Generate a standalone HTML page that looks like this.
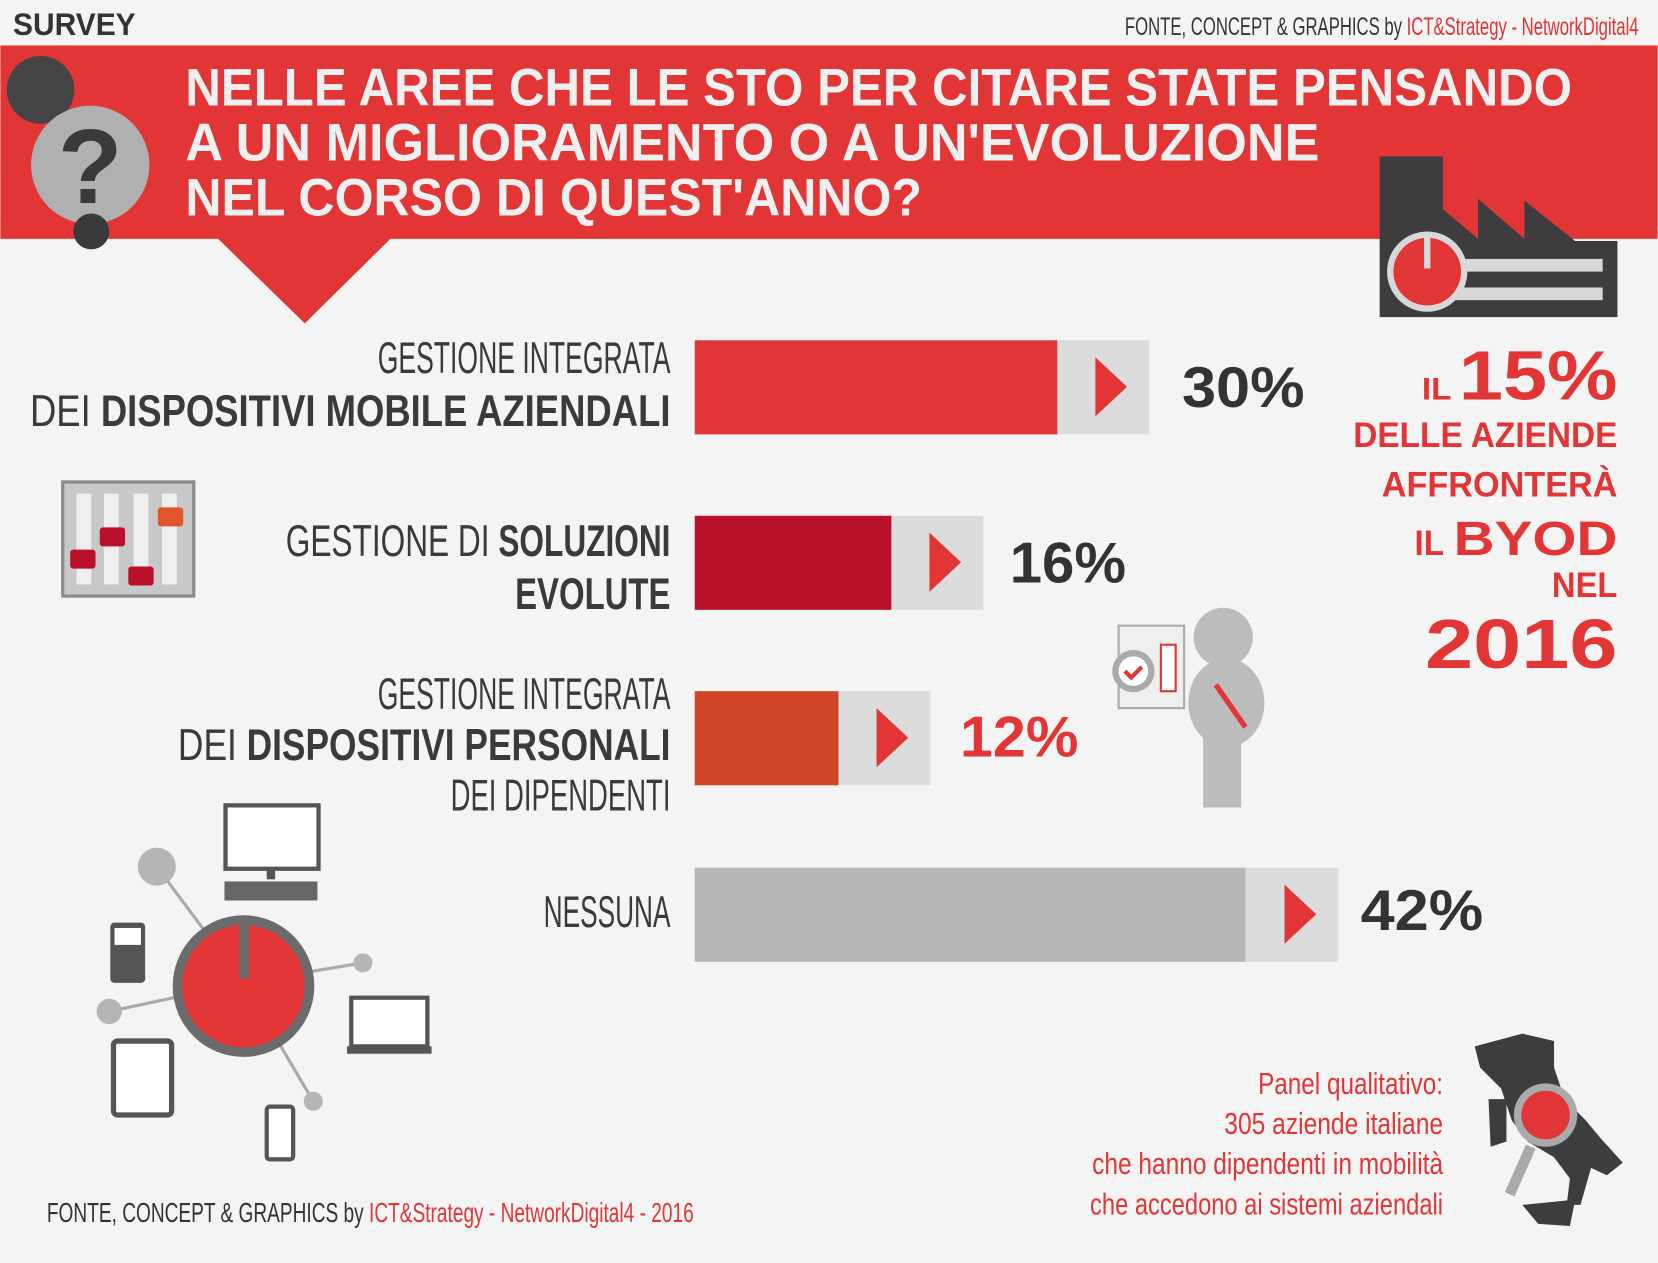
<!DOCTYPE html>
<html><head><meta charset="utf-8"><style>
html,body{margin:0;padding:0;background:#f4f4f4;}
svg{display:block}
text{font-family:"Liberation Sans Narrow","Liberation Sans",sans-serif;}
.b{font-weight:bold}
</style></head><body>
<svg width="1658" height="1263" viewBox="0 0 1568 1195" xmlns="http://www.w3.org/2000/svg">
<rect width="1568" height="1195" fill="#f4f4f4"/>
<text x="12" y="33" font-size="30" class="b" fill="#333" textLength="116" lengthAdjust="spacingAndGlyphs">SURVEY</text>
<text x="1064" y="33" font-size="24" fill="#333" textLength="486" lengthAdjust="spacingAndGlyphs">FONTE, CONCEPT &amp; GRAPHICS by <tspan fill="#e03333">ICT&amp;Strategy - NetworkDigital4</tspan></text>
<rect x="0" y="43" width="1568" height="183" fill="#e23636"/>
<polygon points="205,225 370,225 288,306" fill="#e23636"/>
<circle cx="38" cy="85" r="32" fill="#444"/>
<circle cx="85" cy="156" r="56" fill="#b0b0b0"/>
<text x="85" y="192" font-size="100" class="b" fill="#3a3a3a" text-anchor="middle" font-family="Liberation Sans">?</text>
<circle cx="86" cy="219" r="17" fill="#3a3a3a"/>
<g fill="#f0f0f0" font-size="50" class="b">
<text x="175" y="100" textLength="1312" lengthAdjust="spacingAndGlyphs">NELLE AREE CHE LE STO PER CITARE STATE PENSANDO</text>
<text x="175" y="152" textLength="1073" lengthAdjust="spacingAndGlyphs">A UN MIGLIORAMENTO O A UN'EVOLUZIONE</text>
<text x="175" y="204" textLength="697" lengthAdjust="spacingAndGlyphs">NEL CORSO DI QUEST'ANNO?</text>
</g>
<polygon points="1305,148 1365,148 1365,198 1398,226 1398,188 1442,226 1442,190 1490,228 1530,228 1530,300 1305,300" fill="#3d3d3f"/>
<rect x="1370" y="245" width="146" height="12" fill="#d8d8d8"/>
<rect x="1370" y="272" width="146" height="12" fill="#d8d8d8"/>
<circle cx="1350" cy="257" r="38" fill="#d8d8d8"/>
<circle cx="1350" cy="257" r="32" fill="#e23636"/>
<rect x="1347" y="224" width="6" height="30" fill="#d8d8d8"/>
<rect x="657" y="322" width="430" height="89" fill="#dcdcdc"/><rect x="657" y="322" width="343" height="89" fill="#e23636"/>
<polygon points="1036,338 1066,366 1036,394" fill="#e23636"/>
<rect x="657" y="488" width="273" height="89" fill="#dcdcdc"/><rect x="657" y="488" width="186" height="89" fill="#b9112b"/>
<polygon points="879,504 909,532 879,560" fill="#e23636"/>
<rect x="657" y="654" width="223" height="89" fill="#dcdcdc"/><rect x="657" y="654" width="136" height="89" fill="#d04528"/>
<polygon points="829,670 859,698 829,726" fill="#e23636"/>
<rect x="657" y="821" width="609" height="89" fill="#dcdcdc"/><rect x="657" y="821" width="521" height="89" fill="#b7b7b9"/>
<polygon points="1215,837 1245,865 1215,893" fill="#e23636"/>
<g font-size="54" class="b" font-family="Liberation Sans">
<text x="1118" y="385" fill="#333" textLength="116" lengthAdjust="spacingAndGlyphs">30%</text>
<text x="955" y="551" fill="#333" textLength="110" lengthAdjust="spacingAndGlyphs">16%</text>
<text x="908" y="716" fill="#e23636" textLength="112" lengthAdjust="spacingAndGlyphs">12%</text>
<text x="1287" y="880" fill="#333" textLength="116" lengthAdjust="spacingAndGlyphs">42%</text>
</g>
<g font-size="42" fill="#3a3a3a" lengthAdjust="spacingAndGlyphs">
<text x="357" y="353" textLength="277" lengthAdjust="spacingAndGlyphs">GESTIONE INTEGRATA</text>
<text x="28" y="403" textLength="606" lengthAdjust="spacingAndGlyphs">DEI <tspan class="b">DISPOSITIVI MOBILE AZIENDALI</tspan></text>
<text x="270" y="526" textLength="364" lengthAdjust="spacingAndGlyphs">GESTIONE DI <tspan class="b">SOLUZIONI</tspan></text>
<text x="487" y="576" class="b" textLength="147" lengthAdjust="spacingAndGlyphs">EVOLUTE</text>
<text x="357" y="671" textLength="277" lengthAdjust="spacingAndGlyphs">GESTIONE INTEGRATA</text>
<text x="168" y="719" textLength="466" lengthAdjust="spacingAndGlyphs">DEI <tspan class="b">DISPOSITIVI PERSONALI</tspan></text>
<text x="426" y="767" textLength="208" lengthAdjust="spacingAndGlyphs">DEI DIPENDENTI</text>
<text x="514" y="877" textLength="120" lengthAdjust="spacingAndGlyphs">NESSUNA</text>
</g>
<g fill="#e23636" class="b" font-family="Liberation Sans">
<text x="1345" y="378" font-size="30" textLength="28" lengthAdjust="spacingAndGlyphs">IL</text>
<text x="1380" y="378" font-size="66" textLength="150" lengthAdjust="spacingAndGlyphs">15%</text>
<text x="1280" y="423" font-size="33" textLength="250" lengthAdjust="spacingAndGlyphs">DELLE AZIENDE</text>
<text x="1307" y="470" font-size="33" textLength="223" lengthAdjust="spacingAndGlyphs">AFFRONTERÀ</text>
<text x="1338" y="525" font-size="33" textLength="28" lengthAdjust="spacingAndGlyphs">IL</text>
<text x="1375" y="525" font-size="46" textLength="155" lengthAdjust="spacingAndGlyphs">BYOD</text>
<text x="1468" y="565" font-size="33" textLength="62" lengthAdjust="spacingAndGlyphs">NEL</text>
<text x="1348" y="632" font-size="66" textLength="182" lengthAdjust="spacingAndGlyphs">2016</text>
</g>
<rect x="59" y="456" width="124" height="108" fill="#c8c8c8" stroke="#8a8a8a" stroke-width="3"/>
<g fill="#eee"><rect x="72" y="467" width="14" height="86"/><rect x="98" y="467" width="14" height="86"/><rect x="126" y="467" width="14" height="86"/><rect x="153" y="467" width="14" height="86"/></g>
<rect x="66" y="520" width="24" height="18" rx="3" fill="#b9112b"/><rect x="94" y="499" width="24" height="18" rx="3" fill="#b9112b"/>
<rect x="121" y="536" width="24" height="18" rx="3" fill="#b9112b"/><rect x="149" y="480" width="24" height="18" rx="3" fill="#e0552e"/>
<rect x="1058" y="592" width="62" height="78" fill="#eee" stroke="#aaa" stroke-width="2"/>
<circle cx="1072" cy="635" r="20" fill="#aaa"/><circle cx="1072" cy="635" r="14" fill="#fff"/>
<path d="M1064 635 l6 6 l10 -10" stroke="#e23636" stroke-width="4" fill="none"/>
<rect x="1098" y="610" width="14" height="44" fill="#fff" stroke="#e23636" stroke-width="2"/>
<circle cx="1157" cy="603" r="28" fill="#bcbcbc"/>
<ellipse cx="1160" cy="665" rx="36" ry="42" fill="#bcbcbc"/>
<rect x="1138" y="690" width="36" height="74" fill="#bcbcbc"/>
<line x1="1150" y1="648" x2="1178" y2="688" stroke="#e23636" stroke-width="5"/>
<g stroke="#aaa" stroke-width="3"><line x1="148" y1="820" x2="230" y2="930"/><line x1="103" y1="957" x2="230" y2="930"/><line x1="343" y1="911" x2="230" y2="930"/><line x1="296" y1="1042" x2="230" y2="930"/></g>
<circle cx="148" cy="820" r="18" fill="#b5b5b5"/><circle cx="103" cy="957" r="12" fill="#b5b5b5"/>
<circle cx="343" cy="911" r="9" fill="#b5b5b5"/><circle cx="296" cy="1042" r="9" fill="#b5b5b5"/>
<circle cx="230" cy="933" r="67" fill="#6b6b6b"/><circle cx="230" cy="933" r="58" fill="#e23636"/>
<rect x="226" y="868" width="9" height="58" fill="#6b6b6b"/>
<rect x="213" y="762" width="88" height="60" fill="#fff" stroke="#555" stroke-width="4"/>
<rect x="252" y="822" width="8" height="10" fill="#555"/><rect x="212" y="834" width="88" height="18" fill="#666"/>
<rect x="104" y="873" width="33" height="57" rx="4" fill="#555"/><rect x="108" y="878" width="25" height="16" fill="#fff"/>
<rect x="107" y="985" width="55" height="70" rx="4" fill="#fff" stroke="#555" stroke-width="5"/>
<rect x="332" y="944" width="72" height="46" fill="#fff" stroke="#555" stroke-width="4"/><rect x="328" y="990" width="80" height="7" fill="#555"/>
<rect x="252" y="1047" width="25" height="50" rx="3" fill="#fff" stroke="#555" stroke-width="4"/>
<path d="M1395 990 L1440 978 L1470 985 L1470 1010 L1480 1040 L1500 1060 L1515 1078 L1535 1100 L1520 1112 L1505 1105 L1495 1140 L1482 1140 L1485 1115 L1470 1095 L1445 1080 L1430 1060 L1420 1030 L1400 1010 Z" fill="#3d3d3f"/>
<path d="M1408 1040 L1425 1040 L1425 1080 L1410 1085 Z" fill="#3d3d3f"/>
<path d="M1440 1140 L1490 1135 L1485 1160 L1455 1158 Z" fill="#3d3d3f"/>
<line x1="1448" y1="1085" x2="1428" y2="1130" stroke="#aaa" stroke-width="10"/>
<circle cx="1462" cy="1055" r="30" fill="#aaa"/><circle cx="1462" cy="1055" r="23" fill="#e23636"/>
<g fill="#e23636" font-size="29">
<text x="1190" y="1035" textLength="175" lengthAdjust="spacingAndGlyphs">Panel qualitativo:</text>
<text x="1158" y="1073" textLength="207" lengthAdjust="spacingAndGlyphs">305 aziende italiane</text>
<text x="1033" y="1111" textLength="332" lengthAdjust="spacingAndGlyphs">che hanno dipendenti in mobilità</text>
<text x="1031" y="1149" textLength="334" lengthAdjust="spacingAndGlyphs">che accedono ai sistemi aziendali</text>
</g>
<text x="44" y="1156" font-size="26" fill="#333" textLength="612" lengthAdjust="spacingAndGlyphs">FONTE, CONCEPT &amp; GRAPHICS by <tspan fill="#e23636">ICT&amp;Strategy - NetworkDigital4 - 2016</tspan></text>
</svg>
</body></html>
